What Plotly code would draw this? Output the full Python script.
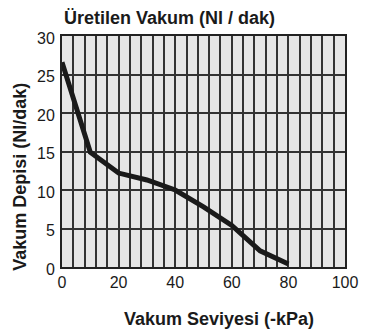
import plotly.graph_objects as go

# Vacuum level (-kPa) vs. generated vacuum flow (Nl/min)
vacuum_level = [0, 10, 20, 30, 40, 50, 60, 70, 80]
vacuum_flow = [26.6, 14.9, 12.2, 11.3, 10.0, 7.8, 5.4, 2.1, 0.4]

x_ticks = [0, 20, 40, 60, 80, 100]
y_ticks = [0, 5, 10, 15, 20, 25, 30]

FONT = "Liberation Sans, Arial, sans-serif"

fig = go.Figure()
fig.add_trace(go.Scatter(
    x=vacuum_level, y=vacuum_flow, mode="lines",
    line=dict(color="#1a1a1a", width=5),
    showlegend=False, hoverinfo="skip",
))

fig.update_layout(
    width=370, height=336,
    margin=dict(l=62, r=12, t=36, b=69),
    paper_bgcolor="white", plot_bgcolor="#e6e6e6",
    font=dict(family=FONT, size=16, color="#1a1a1a"),
    xaxis=dict(
        range=[0, 100], tickvals=x_ticks, ticks="",
        showgrid=True, gridcolor="#333333", gridwidth=1.5,
        minor=dict(dtick=4, showgrid=True, gridcolor="#333333", gridwidth=1.5),
        showline=True, mirror=True, linecolor="#222222", linewidth=2,
        zeroline=False, fixedrange=True,
    ),
    yaxis=dict(
        range=[0, 30], tickvals=y_ticks, ticks="",
        ticklabelshift=2, ticklabelstandoff=2,
        showgrid=True, gridcolor="#333333", gridwidth=1.5,
        showline=True, mirror=True, linecolor="#222222", linewidth=2,
        zeroline=False, fixedrange=True,
    ),
    annotations=[
        dict(text="<b>Üretilen Vakum (Nl / dak)</b>", xref="paper", yref="paper",
             x=0, y=1.08, xanchor="left", yanchor="middle", showarrow=False,
             font=dict(size=18)),
        dict(text="<b>Vakum Seviyesi (-kPa)</b>", xref="paper", yref="paper",
             x=0.554, y=-0.225, xanchor="center", yanchor="middle", showarrow=False,
             font=dict(size=18)),
        dict(text="<b>Vakum Depisi (Nl/dak)</b>", xref="paper", yref="paper",
             x=-0.149, y=0.39, xanchor="center", yanchor="middle", showarrow=False,
             textangle=-90, font=dict(size=18)),
    ],
)

fig.write_html("out.html", config={"displayModeBar": False})
